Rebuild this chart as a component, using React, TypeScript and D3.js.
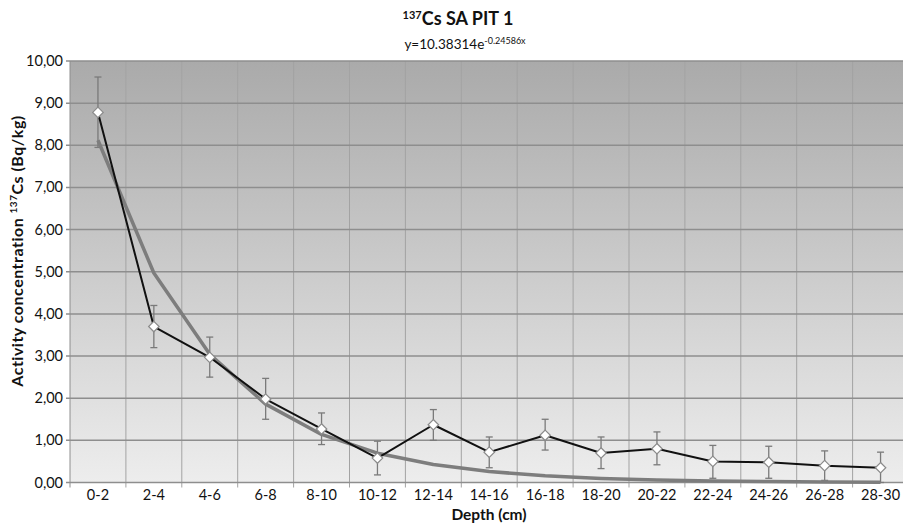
import React from "react";
import * as d3 from "d3";

const categories = ["0-2","2-4","4-6","6-8","8-10","10-12","12-14","14-16","16-18","18-20","20-22","22-24","24-26","26-28","28-30"];
const activity = [8.78,3.70,2.97,1.98,1.27,0.58,1.37,0.72,1.12,0.70,0.80,0.50,0.48,0.40,0.35];
const errUpper = [9.62,4.20,3.45,2.47,1.65,0.98,1.73,1.08,1.50,1.08,1.20,0.88,0.86,0.75,0.72];
const errLower = [7.95,3.20,2.50,1.50,0.90,0.18,1.00,0.35,0.77,0.33,0.42,0.10,0.10,0.05,0.00];
const fitValues = [8.12,4.97,3.04,1.86,1.14,0.695,0.425,0.26,0.159,0.097,0.059,0.036,0.022,0.0136,0.0083];
const yTicks = [0,1,2,3,4,5,6,7,8,9,10];

export default function App() {
  const W = 903, H = 527;
  const left = 70, top = 61, bottom = 482.5;
  const step = 55.9;
  const right = left + step * categories.length;
  const x = d3.scaleBand<string>().domain(categories).range([left, right]);
  const y = d3.scaleLinear().domain([0, 10]).range([bottom, top]);
  const cx = (c: string) => (x(c) as number) + x.bandwidth() / 2;
  const fmt = (v: number) => v.toFixed(2).replace(".", ",");
  const line = d3.line<number>().x((_, i) => cx(categories[i])).y((d) => y(d));
  const font = "Lato, 'Open Sans', 'DejaVu Sans', sans-serif";
  const diamond = d3.symbol().type(d3.symbolDiamond2).size(70)() as string;

  return (
    <svg width={W} height={H} style={{ position: "absolute", left: 0, top: 0, background: "#fff" }} fontFamily={font}>
      <defs>
        <linearGradient id="bg" x1="0" y1="0" x2="0" y2="1">
          <stop offset="0" stopColor="#aaaaaa" />
          <stop offset="1" stopColor="#ededed" />
        </linearGradient>
        <clipPath id="clip"><rect x={0} y={0} width={W} height={H} /></clipPath>
      </defs>
      <text x={458} y={25} textAnchor="middle" fontSize={18} fontWeight="bold" fill="#111">
        <tspan fontSize={11} dy={-6}>137</tspan><tspan dy={6}>Cs SA PIT 1</tspan>
      </text>
      <text x={465} y={49} textAnchor="middle" fontSize={13.5} fill="#111">
        y=10.38314e<tspan fontSize={9} dy={-5}>-0.24586x</tspan>
      </text>
      <rect x={left} y={top} width={right - left} height={bottom - top} fill="url(#bg)" />
      {categories.map((c, i) => i > 0 ? (
        <line key={"v" + i} x1={x(c)} x2={x(c)} y1={top} y2={bottom + 5} stroke="#a3a3a3" strokeWidth={1} />
      ) : null)}
      {yTicks.map((t) => (
        <line key={"h" + t} x1={left - 4} x2={right} y1={y(t)} y2={y(t)} stroke="#8e8e8e" strokeWidth={1.5} />
      ))}
      <line x1={left} x2={left} y1={top} y2={bottom} stroke="#8e8e8e" strokeWidth={1} />
      <line x1={left} x2={left} y1={bottom} y2={bottom + 5} stroke="#8e8e8e" strokeWidth={1} />
      {yTicks.map((t) => (
        <text key={"yl" + t} x={63} y={y(t) + 5} textAnchor="end" fontSize={14.5} fill="#111">{fmt(t)}</text>
      ))}
      {categories.map((c) => (
        <text key={"xl" + c} x={cx(c)} y={500} textAnchor="middle" fontSize={14.5} fill="#111">{c}</text>
      ))}
      <text x={489} y={520} textAnchor="middle" fontSize={15.5} fontWeight="bold" fill="#111">Depth (cm)</text>
      <text transform={`translate(23, 251) rotate(-90)`} textAnchor="middle" fontSize={16} fontWeight="bold" fill="#111" letterSpacing={0.5}>
        Activity concentration  <tspan fontSize={10} dy={-6}>137</tspan><tspan dy={6}>Cs (Bq/kg)</tspan>
      </text>
      <g clipPath="url(#clip)">
        {categories.map((c, i) => (
          <g key={"e" + i} stroke="#7a7a7a" strokeWidth={1.3}>
            <line x1={cx(c)} x2={cx(c)} y1={y(errUpper[i])} y2={y(errLower[i])} />
            <line x1={cx(c) - 3.5} x2={cx(c) + 3.5} y1={y(errUpper[i])} y2={y(errUpper[i])} />
            <line x1={cx(c) - 3.5} x2={cx(c) + 3.5} y1={y(errLower[i])} y2={y(errLower[i])} />
          </g>
        ))}
        <path d={line(fitValues) as string} fill="none" stroke="#7d7d7d" strokeWidth={3.5} strokeLinejoin="round" />
        <path d={line(activity) as string} fill="none" stroke="#111" strokeWidth={2} strokeLinejoin="round" />
        {categories.map((c, i) => (
          <path key={"m" + i} d={diamond} transform={`translate(${cx(c)},${y(activity[i])})`} fill="#fff" stroke="#8a8a8a" strokeWidth={1.2} />
        ))}
      </g>
    </svg>
  );
}
